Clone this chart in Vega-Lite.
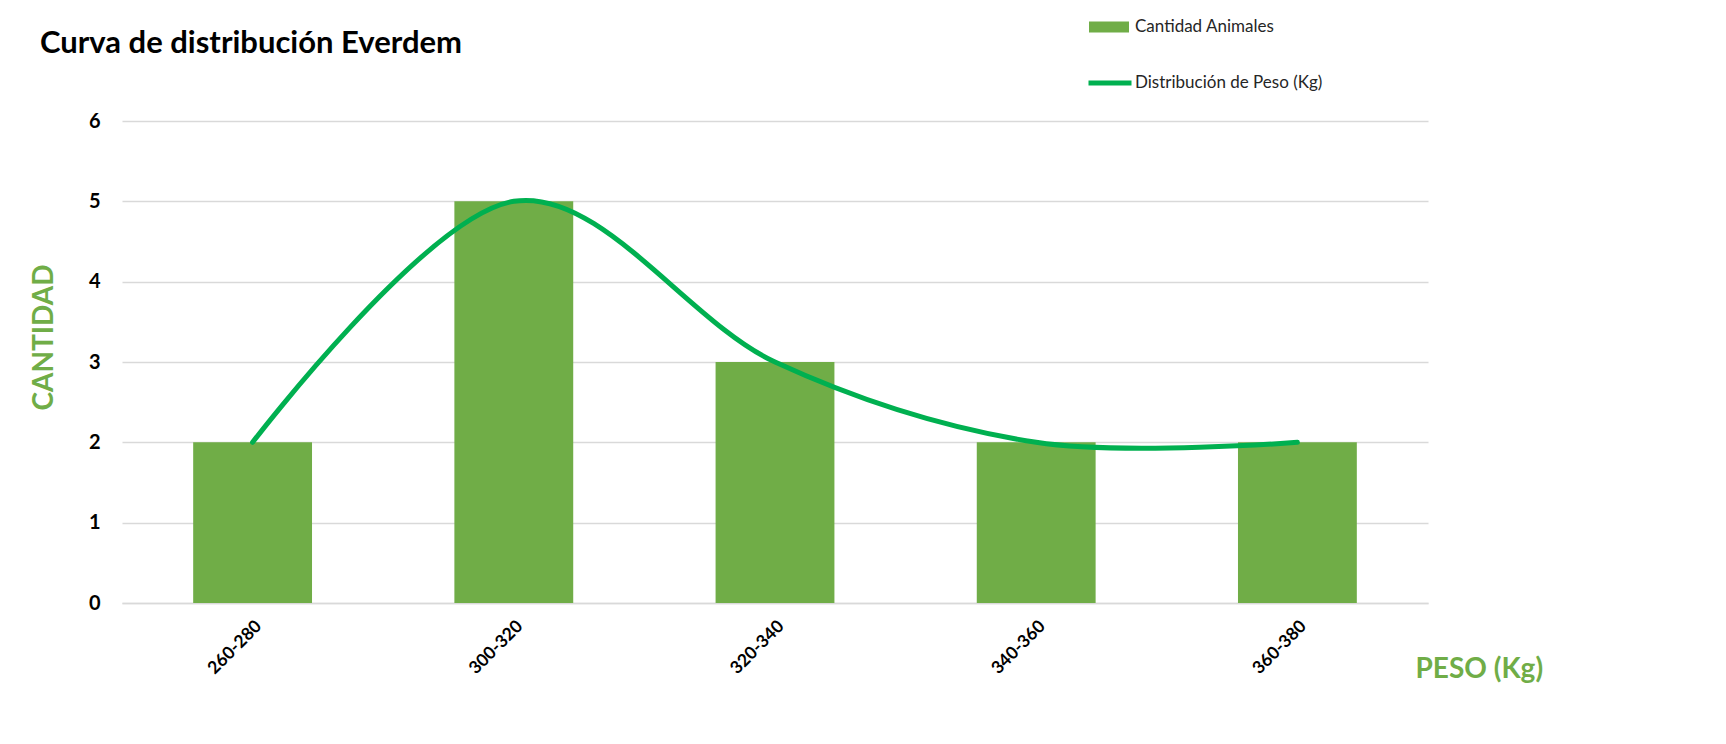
{
  "$schema": "https://vega.github.io/schema/vega-lite/v6.json",
  "width": 1306,
  "height": 482,
  "autosize": {"type": "none"},
  "padding": {"left": 122, "top": 121, "right": 298, "bottom": 141},
  "background": "white",
  "config": {
    "font": "Lato",
    "view": {"stroke": null}
  },
  "title": {
    "text": "Curva de distribución Everdem",
    "anchor": "start",
    "frame": "group",
    "font": "Lato",
    "fontSize": 31,
    "fontWeight": "bold",
    "color": "#000000",
    "baseline": "alphabetic",
    "dx": -82,
    "dy": 124,
    "offset": 47
  },
  "data": {
    "values": [
      {"rango": "260-280", "cantidad": 2},
      {"rango": "300-320", "cantidad": 5},
      {"rango": "320-340", "cantidad": 3},
      {"rango": "340-360", "cantidad": 2},
      {"rango": "360-380", "cantidad": 2}
    ]
  },
  "encoding": {
    "x": {
      "field": "rango",
      "type": "nominal",
      "sort": null,
      "scale": {"paddingInner": 0.545, "paddingOuter": 0.2725},
      "axis": {
        "title": "PESO (Kg)",
        "titleFont": "Lato",
        "titleFontSize": 28,
        "titleFontWeight": "bold",
        "titleColor": "#70AD47",
        "titleAnchor": "start",
        "titleAlign": "left",
        "titleBaseline": "alphabetic",
        "titleX": 1293,
        "titleY": 74,
        "labelAngle": -45,
        "labelFont": "Lato",
        "labelFontSize": 17.5,
        "labelFontWeight": "bold",
        "labelColor": "#000000",
        "labelPadding": 14,
        "ticks": false,
        "domain": true,
        "domainColor": "#d9d9d9",
        "domainWidth": 1.5
      }
    },
    "y": {
      "field": "cantidad",
      "type": "quantitative",
      "scale": {"domain": [0, 6], "nice": false},
      "axis": {
        "title": "CANTIDAD",
        "titleFont": "Lato",
        "titleFontSize": 28,
        "titleFontWeight": "bold",
        "titleColor": "#70AD47",
        "titleAngle": -90,
        "titleAlign": "center",
        "titleBaseline": "middle",
        "titleX": -78,
        "titleY": 216,
        "values": [0, 1, 2, 3, 4, 5, 6],
        "labelFont": "Lato",
        "labelFontSize": 20,
        "labelFontWeight": "bold",
        "labelColor": "#000000",
        "labelPadding": 22,
        "ticks": false,
        "domain": false,
        "grid": true,
        "gridColor": "#d9d9d9",
        "gridWidth": 1.5
      }
    }
  },
  "layer": [
    {
      "mark": {"type": "bar"},
      "encoding": {
        "color": {
          "datum": "Cantidad Animales",
          "scale": {"range": ["#70AD47"]},
          "legend": {
            "title": null,
            "orient": "none",
            "legendX": 967,
            "legendY": -114,
            "symbolType": "M-1,-0.275H1V0.275H-1Z",
            "symbolSize": 1600,
            "symbolStrokeWidth": 0,
            "labelFont": "Lato",
            "labelFontSize": 17,
            "labelLimit": 0,
            "labelColor": "#262626",
            "labelOffset": 6
          }
        }
      }
    },
    {
      "mark": {"type": "line", "interpolate": "cardinal", "strokeWidth": 5, "strokeCap": "round"},
      "encoding": {
        "stroke": {
          "datum": "Distribución de Peso (Kg)",
          "scale": {"range": ["#00B050"]},
          "legend": {
            "title": null,
            "orient": "none",
            "legendX": 964,
            "legendY": -62,
            "symbolType": "stroke",
            "symbolSize": 1849,
            "symbolStrokeWidth": 5,
            "labelFont": "Lato",
            "labelFontSize": 17,
            "labelLimit": 0,
            "labelColor": "#262626",
            "labelOffset": 1
          }
        }
      }
    }
  ]
}
